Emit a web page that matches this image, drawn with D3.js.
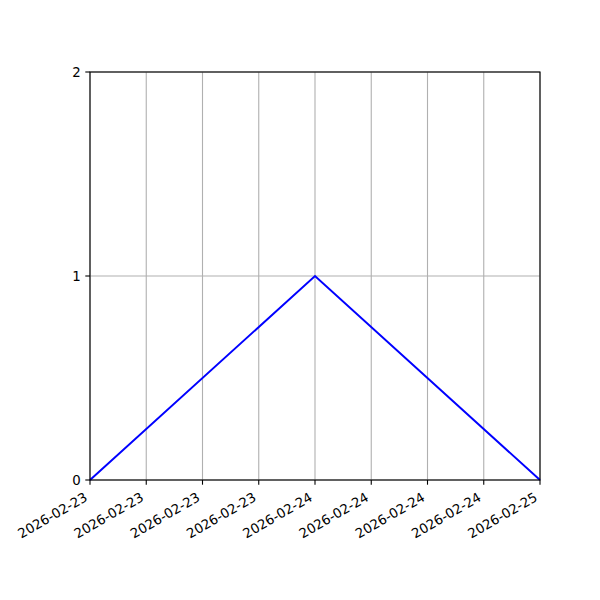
<!DOCTYPE html>
<html>
<head>
<meta charset="utf-8">
<script src="https://cdn.jsdelivr.net/npm/d3@7"></script>
<style>
  body { margin: 0; background: #fff; }
  svg { display: block; font-family: "DejaVu Sans", sans-serif; }
</style>
</head>
<body>
<svg id="chart"></svg>
<script>
const dates = ["2026-02-23", "2026-02-24", "2026-02-25"];
const values = [0, 1, 0];
const yTicks = [0, 1, 2];

const width = 600;
const height = 600;
const margin = { top: 72, right: 60, bottom: 120, left: 90 };

const parse = d3.utcParse("%Y-%m-%d");
const data = dates.map((d, i) => ({ date: parse(d), value: values[i] }));

const svg = d3.select("#chart")
    .attr("width", width)
    .attr("height", height);

const x = d3.scaleUtc()
    .domain(d3.extent(data, d => d.date))
    .range([margin.left, width - margin.right]);

const y = d3.scaleLinear()
    .domain([0, 2])
    .range([height - margin.bottom, margin.top]);

const xTicks = x.ticks(d3.utcHour.every(6));
const fmt = d3.utcFormat("%Y-%m-%d");

// grid
svg.append("g")
    .selectAll("line")
    .data(xTicks)
    .join("line")
    .attr("x1", d => x(d)).attr("x2", d => x(d))
    .attr("y1", y(2)).attr("y2", y(0))
    .attr("stroke", "#b0b0b0")
    .attr("stroke-width", 1.1);

svg.append("g")
    .selectAll("line")
    .data(yTicks)
    .join("line")
    .attr("x1", x.range()[0]).attr("x2", x.range()[1])
    .attr("y1", d => y(d)).attr("y2", d => y(d))
    .attr("stroke", "#b0b0b0")
    .attr("stroke-width", 1.1);

// line
const line = d3.line()
    .x(d => x(d.date))
    .y(d => y(d.value));

svg.append("path")
    .datum(data)
    .attr("fill", "none")
    .attr("stroke", "blue")
    .attr("stroke-width", 2)
    .attr("d", line);

// frame
svg.append("rect")
    .attr("x", margin.left)
    .attr("y", margin.top)
    .attr("width", width - margin.left - margin.right)
    .attr("height", height - margin.top - margin.bottom)
    .attr("fill", "none")
    .attr("stroke", "black")
    .attr("stroke-width", 1.1);

// x axis ticks
const xAxis = svg.append("g");
xAxis.selectAll("line")
    .data(xTicks)
    .join("line")
    .attr("x1", d => x(d)).attr("x2", d => x(d))
    .attr("y1", y(0)).attr("y2", y(0) + 4.7)
    .attr("stroke", "black")
    .attr("stroke-width", 1.1);

const c30 = Math.cos(Math.PI / 6);
const ty = y(0) + 9.3 + 15.5 * c30;
xAxis.selectAll("text")
    .data(xTicks)
    .join("text")
    .attr("transform", d => `translate(${x(d)},${ty}) rotate(-30)`)
    .attr("y", -3.2)
    .attr("text-anchor", "end")
    .attr("font-size", 13.33)
    .attr("fill", "black")
    .text(d => fmt(d));

// y axis ticks
const yAxis = svg.append("g");
yAxis.selectAll("line")
    .data(yTicks)
    .join("line")
    .attr("x1", margin.left - 4.7).attr("x2", margin.left)
    .attr("y1", d => y(d)).attr("y2", d => y(d))
    .attr("stroke", "black")
    .attr("stroke-width", 1.1);

yAxis.selectAll("text")
    .data(yTicks)
    .join("text")
    .attr("x", margin.left - 9.3)
    .attr("y", d => y(d))
    .attr("dy", "0.35em")
    .attr("text-anchor", "end")
    .attr("font-size", 13.33)
    .attr("fill", "black")
    .text(d => d);
</script>
</body>
</html>
